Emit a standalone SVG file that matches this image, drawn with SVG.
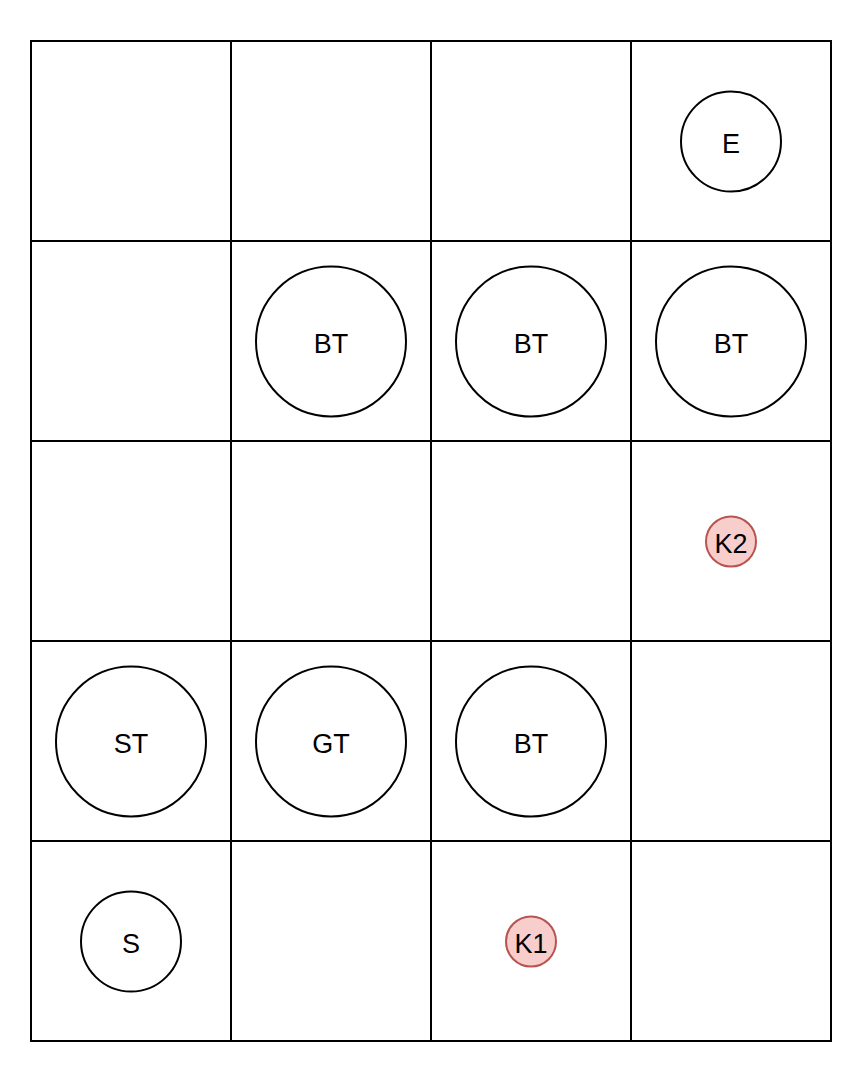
<svg xmlns="http://www.w3.org/2000/svg" width="863" height="1082" viewBox="0 0 863 1082">
<style>
.grid{fill:none;stroke:#000;stroke-width:2}
.c{fill:#fff;stroke:#000;stroke-width:2}
.k{fill:#f8cecc;stroke:#b85450;stroke-width:2}
text{font-family:"Liberation Sans",Arial,sans-serif;font-size:27px;text-anchor:middle;fill:#000}
</style>
<rect width="863" height="1082" fill="#fff"/>
<g id="grid" class="grid">
<rect x="31" y="41" width="800" height="1000"/>
<line x1="231" y1="41" x2="231" y2="1041"/>
<line x1="431" y1="41" x2="431" y2="1041"/>
<line x1="631" y1="41" x2="631" y2="1041"/>
<line x1="31" y1="241" x2="831" y2="241"/>
<line x1="31" y1="441" x2="831" y2="441"/>
<line x1="31" y1="641" x2="831" y2="641"/>
<line x1="31" y1="841" x2="831" y2="841"/>
</g>
<g id="connectors"></g>
<g id="E"><circle class="c" cx="731" cy="141.5" r="50"/><text x="731" y="152.5">E</text></g>
<g id="BT1"><circle class="c" cx="331" cy="341.5" r="75"/><text x="331" y="352.5">BT</text></g>
<g id="BT2"><circle class="c" cx="531" cy="341.5" r="75"/><text x="531" y="352.5">BT</text></g>
<g id="BT3"><circle class="c" cx="731" cy="341.5" r="75"/><text x="731" y="352.5">BT</text></g>
<g id="K2"><circle class="k" cx="731" cy="541.5" r="25"/><text x="731" y="552.5">K2</text></g>
<g id="ST"><circle class="c" cx="131" cy="741.5" r="75"/><text x="131" y="752.5">ST</text></g>
<g id="GT"><circle class="c" cx="331" cy="741.5" r="75"/><text x="331" y="752.5">GT</text></g>
<g id="BT4"><circle class="c" cx="531" cy="741.5" r="75"/><text x="531" y="752.5">BT</text></g>
<g id="S"><circle class="c" cx="131" cy="941.5" r="50"/><text x="131" y="952.5">S</text></g>
<g id="K1"><circle class="k" cx="531" cy="941.5" r="25"/><text x="531" y="952.5">K1</text></g>
</svg>
